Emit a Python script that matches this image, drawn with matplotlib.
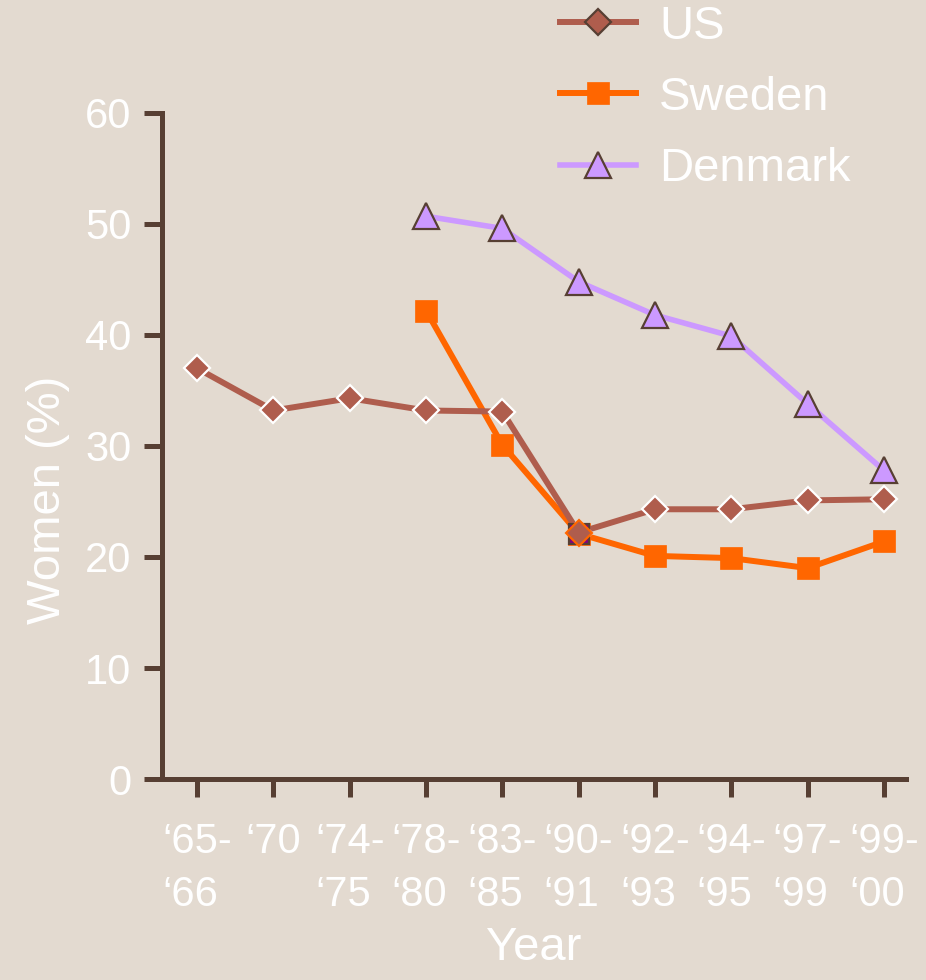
import matplotlib
matplotlib.use('Agg')
import matplotlib.pyplot as plt
from matplotlib import font_manager
import numpy as np

# fonts: prefer a narrow sans if it is there
names = {f.name for f in font_manager.fontManager.ttflist}
FONT = ['Liberation Sans Narrow', 'Liberation Sans', 'DejaVu Sans']
FONT = [f for f in FONT if f in names] or ['DejaVu Sans']
plt.rcParams['font.family'] = FONT

# ========== data ==========
years = ['\u201865-\n\u201866', '\u201870', '\u201874-\n\u201875', '\u201878-\n\u201880',
         '\u201883-\n\u201885', '\u201890-\n\u201891', '\u201892-\n\u201893',
         '\u201894-\n\u201895', '\u201897-\n\u201899', '\u201899-\n\u201800']
us = [37.0, 33.2, 34.3, 33.2, 33.1, 22.2, 24.3, 24.3, 25.1, 25.2]
sweden = [np.nan, np.nan, np.nan, 42.2, 30.1, 22.1, 20.1, 19.9, 19.0, 21.4]
denmark = [np.nan, np.nan, np.nan, 50.7, 49.6, 44.8, 41.8, 39.9, 33.8, 27.8]

# ========== style ==========
BG = '#E3DAD0'
AX = '#573F33'
C_US = '#AF5D4D'
C_SE = '#FF6600'
C_DK = '#CC99FF'
TXT = 'white'

x = np.arange(len(years))

fig = plt.figure(figsize=(9.26, 9.8), dpi=100, facecolor=BG)
ax = fig.add_axes([0.175, 0.2051, 0.8034, 0.6796])
ax.set_facecolor(BG)

ax.plot(x, denmark, color=C_DK, lw=4, marker='^', ms=19,
        mfc=C_DK, mec=AX, mew=1.6, label='Denmark', zorder=3)
ax.plot(x, sweden, color=C_SE, lw=4.3, marker='s', ms=16.5,
        mfc=C_SE, mec=C_SE, mew=0.5, label='Sweden', zorder=3)
ax.plot(x, us, color=C_US, lw=4.3, marker='D', ms=13,
        mfc=C_US, mec='white', mew=1.6, label='US', zorder=4)

# odd marker pair at '90-'91
k = 5
ax.plot(x[k], sweden[k], ls='none', marker='s', ms=15, mfc='#800080',
        mec=AX, mew=1.6, zorder=5)
ax.plot(x[k], us[k], ls='none', marker='D', ms=13, mfc=C_US,
        mec=C_SE, mew=1.6, zorder=6)

ax.set_xlim(-0.459, 9.289)
ax.set_ylim(0, 60)
ax.set_xticks(x)
ax.set_xticklabels(years, multialignment='left', linespacing=1.42)
ax.set_yticks(range(0, 61, 10))

for s in ['top', 'right']:
    ax.spines[s].set_visible(False)
for s in ['left', 'bottom']:
    ax.spines[s].set_color(AX)
    ax.spines[s].set_linewidth(3.6)
    ax.spines[s].set_capstyle('projecting')

ax.tick_params(axis='both', colors=AX, width=3.6, length=13,
               labelcolor=TXT, labelsize=30)
ax.tick_params(axis='x', pad=18)
ax.tick_params(axis='y', pad=9)

ax.set_ylabel('Women (%)', color=TXT, fontsize=34)
ax.yaxis.set_label_coords((70 - 162) / 744, (779 - 500) / 666)
ax.set_xlabel('Year', color=TXT, fontsize=34, labelpad=8)

h, l = ax.get_legend_handles_labels()
order = [2, 1, 0]
leg = fig.legend([h[i] for i in order], [l[i] for i in order],
                 loc='center left', bbox_to_anchor=(560 / 926, 1 - 98 / 980),
                 frameon=False, fontsize=34, handlelength=1.6,
                 handletextpad=0.5, labelspacing=0.58, borderpad=0,
                 borderaxespad=0)
for t in leg.get_texts():
    t.set_color(TXT)
# legend diamond uses dark edge
leg.legend_handles[0].set_markeredgecolor(AX)

fig.savefig('out.png', dpi=100, facecolor=BG)
